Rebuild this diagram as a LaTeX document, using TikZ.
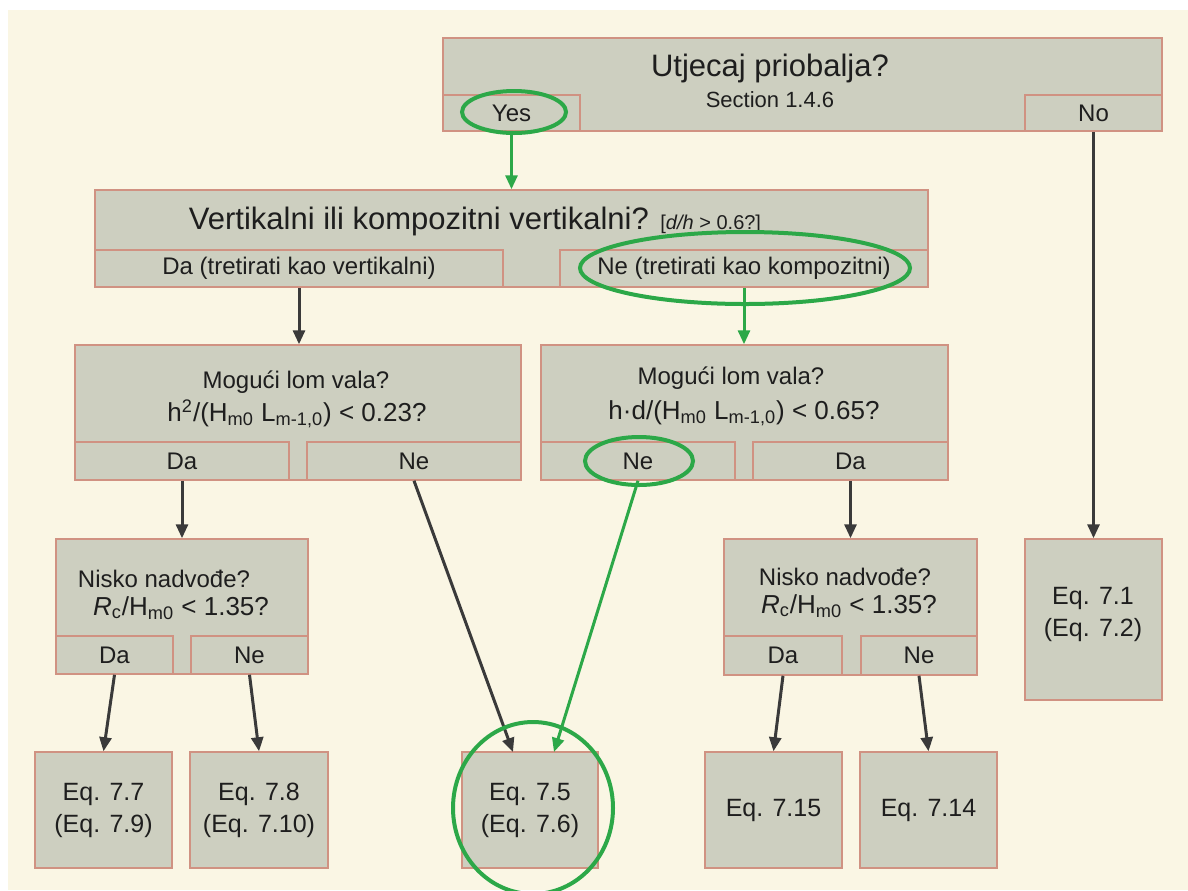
\documentclass[tikz,border=0pt]{standalone}
\usepackage{fontspec}
\setmainfont{Liberation Sans}
\usetikzlibrary{arrows.meta,fit}
\definecolor{cream}{RGB}{250,246,228}
\definecolor{boxfill}{RGB}{205,207,192}
\definecolor{boxline}{RGB}{208,146,130}
\definecolor{markgreen}{RGB}{44,168,72}
\definecolor{arrowgray}{RGB}{58,58,58}
\definecolor{textgray}{RGB}{30,30,30}

\tikzset{
  qbox/.style={draw=boxline, fill=boxfill, line width=0.75pt, inner sep=0pt},
  question/.style={text=textgray, inner sep=0pt, align=center, font=\fontsize{12}{14}\selectfont},
  bigquestion/.style={question, font=\fontsize{15.5}{18}\selectfont},
  formula/.style={question, font=\fontsize{13}{15}\selectfont},
  eqtext/.style={question, font=\fontsize{12.5}{16}\selectfont},
  flow/.style={->, arrowgray, line width=1.5pt},
  chosen/.style={->, markgreen, line width=1.5pt},
  ring/.style={markgreen, line width=2pt},
}

\begin{document}
\begin{tikzpicture}[x=0.5pt, y=-0.5pt, >={Triangle[width=6pt,length=7pt]}]
	\useasboundingbox (0,0) rectangle (1188,890);
	\fill[white] (0,0) rectangle (1188,890);
	\fill[cream] (8,10) rectangle (1188,890);

	% coastal influence
	\node (coast) [qbox, fit={(443,38) (1162,131)}] {};
	\node (yes) [qbox, fit={(443,95) (580,131)}, label={[question]center:Yes}] {};
	\node (no) [qbox, fit={(1025,95) (1162,131)}, label={[question]center:No}] {};
	\node (coastq) [bigquestion] at (770,68) {Utjecaj priobalja?};
	\node (coastsec) [question, font=\fontsize{11}{13}\selectfont] at (770,100) {Section 1.4.6};

	% vertical or composite
	\node (vert) [qbox, fit={(95,190) (928,287)}] {};
	\node (vertda) [qbox, fit={(95,250) (503,287)}, label={[question]center:Da (tretirati kao vertikalni)}] {};
	\node (vertne) [qbox, fit={(560,250) (928,287)}, label={[question]center:Ne (tretirati kao kompozitni)}] {};
	\node (vertq) [bigquestion] at (475,221) {Vertikalni ili kompozitni vertikalni? {\fontsize{10}{12}\selectfont[\textit{d/h} > 0.6?]}};

	% breaking, vertical
	\node (brkv) [qbox, fit={(75,345) (521,480)}] {};
	\node (brkvda) [qbox, fit={(75,442) (289,480)}, label={[question]center:Da}] {};
	\node (brkvne) [qbox, fit={(307,442) (521,480)}, label={[question]center:Ne}] {};
	\node (brkvq) [question] at (296,382) {Mogući lom vala?};
	\node (brkvf) [formula] at (297,414) {h\textsuperscript{2}/(H\textsubscript{m0} L\textsubscript{m-1,0}) < 0.23?};

	% breaking, composite
	\node (brkc) [qbox, fit={(541,345) (948,480)}] {};
	\node (brkcne) [qbox, fit={(541,442) (735,480)}, label={[question]center:Ne}] {};
	\node (brkcda) [qbox, fit={(753,442) (948,480)}, label={[question]center:Da}] {};
	\node (brkcq) [question] at (731,378) {Mogući lom vala?};
	\node (brkcf) [formula] at (744,413) {h·d/(H\textsubscript{m0} L\textsubscript{m-1,0}) < 0.65?};

	% low freeboard
	\node (lowv) [qbox, fit={(56,539) (308,674)}] {};
	\node (lowvda) [qbox, fit={(56,636) (173,674)}, label={[question]center:Da}] {};
	\node (lowvne) [qbox, fit={(191,636) (308,674)}, label={[question]center:Ne}] {};
	\node (lowvq) [question] at (164,579) {Nisko nadvođe?};
	\node (lowvf) [formula] at (181,608) {\textit{R}\textsubscript{c}/H\textsubscript{m0} < 1.35?};

	\node (lowc) [qbox, fit={(724,539) (977,675)}] {};
	\node (lowcda) [qbox, fit={(724,636) (842,675)}, label={[question]center:Da}] {};
	\node (lowcne) [qbox, fit={(861,636) (977,675)}, label={[question]center:Ne}] {};
	\node (lowcq) [question] at (845,577) {Nisko nadvođe?};
	\node (lowcf) [formula] at (849,606) {\textit{R}\textsubscript{c}/H\textsubscript{m0} < 1.35?};

	% equations
	\node (eq71) [qbox, fit={(1025,539) (1162,700)}] {};
	\node (eq71t) [eqtext] at (1093,614) {Eq. 7.1\\(Eq. 7.2)};
	\node (eq77) [qbox, fit={(35,752) (172,868)}, label={[eqtext]center:Eq. 7.7\\(Eq. 7.9)}] {};
	\node (eq78) [qbox, fit={(190,752) (328,868)}, label={[eqtext]center:Eq. 7.8\\(Eq. 7.10)}] {};
	\node (eq75) [qbox, fit={(462,752) (598,868)}, label={[eqtext]center:Eq. 7.5\\(Eq. 7.6)}] {};
	\node (eq715) [qbox, fit={(705,752) (842,868)}, label={[eqtext]center:Eq. 7.15}] {};
	\node (eq714) [qbox, fit={(860,752) (997,868)}, label={[eqtext]center:Eq. 7.14}] {};
	\coordinate (eq75a) at (513,752);
	\coordinate (eq75b) at (554,752);

	\draw[flow] (no.south) -- (eq71.north);
	\draw[flow] (vertda.south) -- (vertda.south |- brkv.north);
	\draw[flow] (brkvda.south) -- (brkvda.south |- lowv.north);
	\draw[flow] (brkvne.south) -- (eq75a);
	\draw[flow] (brkcda.south) -- (brkcda.south |- lowc.north);
	\draw[flow] (lowvda.south) -- (eq77.north);
	\draw[flow] (lowvne.south) -- (eq78.north);
	\draw[flow] (lowcda.south) -- (eq715.north);
	\draw[flow] (lowcne.south) -- (eq714.north);

	% chosen path
	\draw[chosen] (yes.south) -- (yes.south |- vert.north);
	\draw[chosen] (vertne.south) -- (vertne.south |- brkc.north);
	\draw[chosen] (brkcne.south) -- (eq75b);
	\draw[ring] (514,112) ellipse [x radius=26pt, y radius=10.5pt];
	\draw[ring] (745,268) ellipse [x radius=82.5pt, y radius=18pt];
	\draw[ring] (639,461) ellipse [x radius=27pt, y radius=12pt];
	\draw[ring] (533,808) ellipse [x radius=40pt, y radius=43pt];
\end{tikzpicture}
\end{document}
